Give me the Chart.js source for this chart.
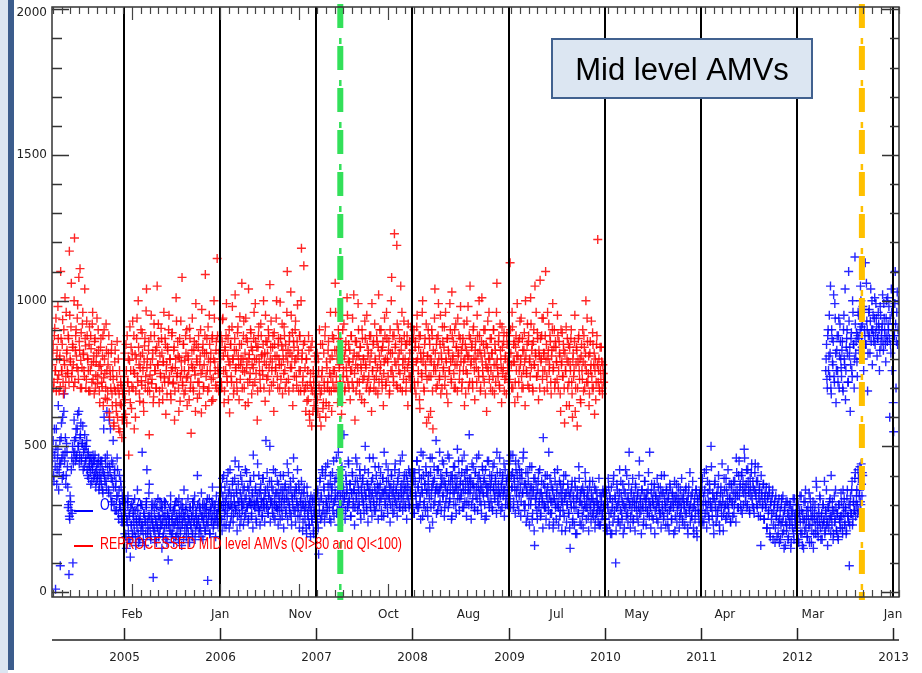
<!DOCTYPE html>
<html>
<head>
<meta charset="utf-8">
<script src="https://cdn.jsdelivr.net/npm/chart.js@4.4.1/dist/chart.umd.min.js"></script>
<style>
  html, body { margin: 0; padding: 0; background: #fff; }
  canvas { display: block; }
</style>
</head>
<body>
<canvas id="amvChart" width="922" height="673"></canvas>
<script>
// counts sampled every 3 days, two passes (a / b) offset by 1.5 days, one array per year
const stepDays = 3;

const red2004 = [
780, 850, 720, 905, 760, 690, 830, 980, 745, 800, 705, 870, 760, 935, 680, 795, 1010, 740, 820, 760,
880, 720, 950, 790, 1060, 760, 840, 705, 1215, 830, 900, 770, 985, 730, 860, 1110, 795, 700, 920, 815,
760, 1040, 845, 730, 880, 800, 690, 910, 760, 835, 720, 960, 790, 680, 870, 745, 820, 715, 900, 775,
650, 840, 760, 705, 880, 735, 800, 665, 920, 760, 690, 820, 615, 760, 700, 850, 640, 730, 580, 790,
690, 620, 860, 700, 560, 760, 645, 710, 530, 680, 600
];
const red2004b = [
820, 700, 880, 760, 940, 800, 730, 870, 690, 810, 1100, 760, 850, 720, 900, 780, 700, 960, 830, 750,
870, 1170, 800, 910, 740, 850, 780, 1000, 720, 880, 810, 940, 760, 1080, 830, 700, 890, 770, 960, 820,
740, 870, 700, 930, 800, 760, 850, 690, 880, 780, 920, 730, 810, 860, 700, 790, 940, 740, 830, 690,
780, 870, 720, 810, 640, 900, 750, 700, 830, 660, 780, 880, 600, 740, 820, 680, 760, 570, 700, 830,
650, 740, 600, 800, 680, 550, 720, 640, 590, 700
];
const red2005 = [
690, 820, 610, 760, 880, 720, 470, 795, 650, 840, 705, 930, 760, 560, 815, 690, 870, 740, 1000, 780,
655, 810, 725, 890, 760, 620, 845, 700, 965, 770, 690, 830, 540, 745, 880, 715, 800, 650, 920, 760,
830, 700, 1050, 780, 860, 690, 750, 905, 820, 660, 790, 735, 870, 610, 780, 840, 720, 950, 800, 680,
760, 890, 715, 830, 590, 770, 1010, 740, 860, 700, 805, 655, 930, 760, 720, 850, 680, 795, 880, 735,
640, 810, 760, 905, 700, 545, 830, 770, 690, 860, 745, 990, 800, 665, 840, 720, 780, 900, 615, 760,
850, 705, 820, 1090, 740, 870, 690, 800, 950, 760, 820, 655, 880, 735, 1000, 790, 710, 860, 1145, 770,
690, 830
];
const red2005b = [
740, 660, 850, 580, 720, 800, 690, 910, 760, 630, 820, 700, 880, 750, 600, 800, 940, 720, 840, 680,
770, 900, 710, 820, 650, 790, 870, 740, 1040, 800, 720, 860, 690, 780, 950, 730, 820, 670, 880, 760,
700, 840, 780, 920, 650, 810, 740, 870, 700, 790, 960, 720, 850, 760, 680, 830, 900, 740, 800, 660,
880, 770, 720, 840, 690, 800, 930, 750, 810, 620, 870, 740, 790, 1080, 710, 850, 760, 690, 820, 900,
740, 800, 660, 870, 720, 780, 940, 700, 830, 760, 620, 850, 790, 720, 880, 680, 810, 750, 970, 830,
700, 780, 880, 640, 820, 760, 910, 700, 850, 790, 730, 870, 660, 800, 940, 760, 830, 700, 880, 750,
820, 720
];
const red2006 = [
760, 880, 700, 935, 810, 650, 840, 760, 990, 720, 870, 790, 615, 850, 740, 910, 800, 680, 830, 1020,
770, 720, 890, 810, 660, 945, 780, 850, 700, 800, 930, 755, 640, 870, 790, 720, 1040, 815, 750, 890,
680, 830, 770, 960, 720, 860, 800, 590, 840, 910, 760, 700, 880, 815, 745, 1000, 790, 655, 860, 730,
820, 900, 770, 1055, 840, 710, 790, 880, 620, 850, 760, 940, 810, 700, 870, 780, 995, 730, 845, 680,
800, 910, 760, 850, 720, 1100, 830, 690, 880, 770, 950, 810, 640, 860, 740, 900, 800, 710, 985, 830,
760, 880, 690, 1180, 820, 740, 1120, 860, 700, 800, 655, 760, 880, 610, 720, 840, 570, 690, 760, 640,
810, 700
];
const red2006b = [
800, 720, 860, 940, 760, 690, 830, 880, 740, 810, 660, 900, 780, 850, 720, 980, 800, 700, 870, 760,
830, 690, 910, 780, 850, 730, 800, 1060, 760, 880, 700, 820, 940, 770, 860, 650, 800, 730, 900, 840,
780, 710, 870, 800, 990, 750, 840, 690, 880, 790, 730, 920, 810, 760, 850, 700, 820, 950, 780, 860,
740, 880, 690, 800, 930, 760, 840, 720, 890, 810, 770, 1000, 740, 850, 800, 700, 870, 780, 920, 830,
750, 880, 700, 810, 960, 790, 730, 860, 820, 1030, 770, 890, 700, 840, 790, 930, 740, 860, 810, 690,
880, 760, 1000, 800, 720, 850, 690, 770, 620, 800, 710, 660, 830, 590, 750, 700, 860, 620, 720, 680,
790, 740
];
const red2007 = [
700, 820, 620, 760, 900, 680, 570, 740, 850, 650, 720, 880, 600, 790, 700, 830, 640, 750, 960, 690,
810, 720, 870, 760, 1060, 700, 830, 650, 900, 770, 720, 860, 610, 800, 740, 920, 690, 830, 770, 1010,
720, 850, 790, 660, 880, 760, 940, 700, 820, 590, 780, 860, 720, 990, 810, 680, 840, 760, 900, 730,
800, 650, 870, 770, 950, 720, 830, 690, 790, 880, 620, 760, 850, 700, 920, 790, 740, 860, 680, 1020,
810, 760, 900, 730, 840, 640, 790, 880, 710, 960, 800, 740, 860, 690, 820, 1000, 760, 880, 720, 1230,
840, 780, 1190, 700, 900, 820, 750, 1050, 860, 690, 800, 930, 760, 850, 720, 880, 640, 790, 860, 740,
910, 800
];
const red2007b = [
740, 660, 800, 710, 600, 850, 690, 760, 630, 820, 700, 910, 650, 770, 720, 860, 690, 800, 740, 620,
880, 760, 700, 830, 960, 740, 800, 690, 870, 780, 720, 840, 650, 900, 760, 810, 700, 860, 740, 950,
790, 700, 830, 760, 880, 720, 800, 1020, 750, 860, 690, 810, 770, 900, 720, 840, 780, 660, 870, 800,
740, 930, 780, 700, 850, 810, 740, 880, 700, 820, 990, 760, 860, 730, 800, 690, 880, 770, 840, 720,
900, 780, 830, 700, 860, 750, 940, 800, 720, 870, 790, 830, 680, 900, 760, 1080, 820, 740, 880, 790,
850, 710, 920, 800, 760, 870, 700, 830, 960, 780, 730, 880, 800, 690, 850, 770, 920, 740, 820, 700,
860, 780
];
const red2008 = [
830, 760, 900, 700, 860, 790, 950, 720, 840, 660, 880, 800, 740, 1000, 820, 690, 870, 760, 580, 810,
900, 740, 850, 620, 790, 880, 560, 760, 940, 820, 700, 870, 780, 990, 730, 850, 680, 800, 910, 760,
840, 710, 960, 790, 870, 650, 820, 760, 900, 730, 1030, 800, 860, 700, 780, 920, 840, 690, 810, 880,
760, 980, 830, 720, 870, 790, 640, 850, 760, 930, 810, 700, 880, 1050, 780, 840, 720, 900, 800, 660,
860, 770, 950, 820, 740, 880, 690, 810, 1010, 760, 850, 720, 900, 780, 620, 840, 760, 960, 800, 700,
870, 820, 740, 900, 680, 830, 780, 1060, 760, 860, 710, 920, 800, 650, 840, 770, 890, 730, 810, 680,
850, 760
];
const red2008b = [
790, 870, 720, 840, 680, 910, 800, 760, 880, 630, 820, 750, 960, 790, 700, 850, 780, 920, 730, 810,
600, 870, 800, 740, 900, 690, 830, 780, 1040, 760, 850, 710, 880, 800, 740, 950, 820, 700, 860, 770,
910, 740, 800, 680, 870, 830, 760, 990, 790, 720, 880, 810, 750, 900, 700, 840, 780, 940, 820, 730,
870, 790, 700, 850, 760, 920, 800, 680, 830, 750, 980, 810, 720, 870, 790, 850, 700, 910, 760, 830,
800, 720, 880, 760, 1000, 830, 700, 860, 790, 740, 900, 820, 680, 850, 770, 930, 800, 730, 870, 760,
820, 690, 900, 780, 850, 720, 960, 800, 740, 880, 700, 830, 770, 910, 750, 860, 690, 800, 740, 880,
790, 720
];
const red2009 = [
760, 880, 1130, 820, 700, 910, 790, 860, 650, 840, 760, 990, 810, 720, 870, 780, 940, 700, 830, 760,
890, 640, 810, 750, 920, 860, 700, 800, 1010, 770, 850, 690, 900, 780, 820, 960, 740, 870, 660, 810,
1070, 790, 880, 730, 940, 820, 760, 1100, 850, 700, 800, 920, 780, 860, 680, 830, 990, 770, 900, 720,
840, 790, 950, 700, 860, 810, 620, 780, 890, 740, 830, 580, 760, 910, 800, 700, 850, 640, 780, 870,
720, 600, 820, 760, 950, 700, 840, 570, 790, 880, 730, 660, 810, 760, 900, 690, 840, 780, 1000, 720,
860, 750, 640, 820, 760, 930, 700, 850, 780, 610, 800, 720, 880, 1210, 760, 700, 840, 730, 790, 680,
750
];
const red2009b = [
820, 730, 900, 780, 960, 700, 850, 790, 720, 880, 810, 670, 860, 760, 930, 800, 740, 870, 700, 830,
790, 1000, 760, 850, 710, 880, 790, 740, 920, 830, 700, 860, 780, 1050, 810, 740, 890, 760, 830, 700,
870, 800, 940, 760, 820, 690, 880, 800, 740, 960, 830, 760, 880, 720, 810, 900, 760, 840, 700, 860,
790, 730, 880, 760, 820, 680, 900, 790, 740, 850, 700, 820, 760, 640, 870, 790, 720, 840, 760, 900,
680, 800, 740, 860, 620, 780, 830, 700, 870, 760, 800, 650, 850, 730, 790, 880, 700, 820, 760, 940,
720, 810, 680, 860, 780, 740, 890, 700, 820, 760, 660, 850, 780, 720, 800, 690, 760, 840, 700, 780,
720
];

const blue2004 = [
450, 520, 380, 470, 10, 560, 420, 490, 350, 440, 90, 530, 460, 600, 400, 680, 480, 370, 510, 430,
290, 60, 250, 310, 420, 270, 100, 480, 520, 450, 560, 470, 610, 500, 440, 530, 580, 460, 510, 420,
490, 540, 450, 500, 420, 470, 390, 440, 410, 460, 380, 430, 450, 400, 470, 360, 420, 390, 440, 350,
400, 450, 370, 420, 340, 560, 400, 460, 380, 620, 430, 350, 590, 410, 330, 450, 380, 520, 300, 420,
360, 280, 460, 330, 250, 400, 290, 360, 240, 310, 260
];
const blue2004b = [
480, 400, 560, 430, 500, 370, 460, 640, 410, 520, 440, 580, 390, 470, 620, 450, 530, 400, 480, 360,
300, 260, 330, 280, 460, 500, 440, 590, 480, 530, 460, 560, 500, 620, 470, 540, 450, 510, 570, 480,
430, 500, 460, 520, 400, 480, 430, 460, 370, 440, 420, 470, 390, 450, 410, 380, 440, 400, 460, 370,
430, 390, 450, 350, 410, 600, 380, 440, 360, 470, 400, 340, 430, 560, 390, 310, 440, 360, 400, 280,
380, 330, 420, 270, 350, 300, 380, 260, 330, 240
];
const blue2005 = [
260, 200, 310, 150, 240, 330, 180, 270, 120, 230, 300, 190, 260, 210, 280, 160, 240, 350, 200, 250,
180, 300, 230, 480, 210, 270, 160, 240, 290, 420, 200, 260, 370, 220, 180, 280, 240, 50, 300, 210,
250, 170, 230, 320, 190, 260, 220, 290, 150, 240, 200, 310, 260, 180, 230, 270, 110, 250, 210, 330,
190, 260, 230, 170, 280, 240, 310, 200, 250, 180, 270, 220, 300, 160, 240, 260, 350, 210, 280, 190,
230, 320, 250, 170, 290, 220, 260, 200, 310, 240, 180, 270, 230, 400, 250, 200, 290, 220, 340, 260,
180, 240, 300, 210, 270, 230, 40, 260, 320, 200, 280, 240, 360, 220, 300, 250, 190, 330, 270, 230,
310, 260
];
const blue2005b = [
230, 280, 190, 250, 310, 210, 260, 170, 290, 230, 200, 270, 240, 320, 190, 250, 220, 280, 170, 240,
260, 210, 300, 230, 180, 270, 250, 200, 310, 240, 220, 340, 260, 190, 250, 300, 230, 210, 270, 180,
240, 290, 220, 260, 200, 310, 250, 230, 280, 190, 260, 220, 300, 240, 170, 270, 230, 250, 290, 210,
250, 200, 280, 230, 300, 190, 260, 240, 220, 320, 250, 200, 270, 230, 290, 180, 260, 240, 300, 220,
270, 200, 250, 290, 230, 260, 190, 280, 240, 330, 210, 260, 230, 300, 250, 220, 280, 190, 260, 300,
240, 270, 210, 290, 250, 320, 230, 270, 200, 290, 250, 310, 260, 230, 280, 300, 250, 270, 240, 290,
280, 300
];
const blue2006 = [
280, 340, 250, 390, 300, 230, 360, 280, 320, 260, 410, 300, 350, 240, 330, 290, 380, 270, 310, 450,
290, 340, 260, 370, 310, 230, 400, 320, 280, 350, 300, 260, 420, 330, 290, 360, 250, 310, 380, 300,
270, 340, 470, 310, 290, 360, 240, 330, 300, 400, 280, 350, 320, 260, 390, 310, 290, 340, 520, 300,
360, 270, 330, 500, 310, 380, 290, 350, 260, 320, 410, 300, 340, 280, 370, 310, 250, 350, 290, 330,
400, 300, 360, 270, 320, 440, 310, 350, 290, 380, 260, 330, 300, 460, 340, 280, 360, 310, 420, 290,
350, 260, 320, 380, 300, 240, 340, 280, 310, 220, 360, 270, 300, 230, 290, 330, 250, 310, 210, 280,
320, 260
];
const blue2006b = [
250, 360, 210, 330, 400, 270, 310, 230, 380, 290, 340, 220, 420, 300, 260, 370, 240, 330, 390, 280,
350, 210, 310, 430, 270, 340, 250, 380, 300, 230, 360, 320, 270, 410, 290, 240, 350, 310, 380, 260,
330, 220, 400, 300, 350, 250, 310, 440, 280, 340, 230, 370, 300, 260, 390, 320, 240, 350, 290, 410,
270, 330, 380, 240, 310, 360, 270, 420, 300, 250, 340, 290, 380, 230, 330, 280, 400, 310, 260, 350,
220, 320, 370, 280, 340, 250, 410, 300, 270, 360, 230, 320, 390, 280, 330, 240, 350, 300, 260, 370,
220, 310, 280, 340, 210, 300, 360, 250, 290, 200, 330, 260, 230, 310, 190, 280, 250, 320, 200, 270,
300, 240
];
const blue2007 = [
300, 240, 350, 130, 280, 390, 320, 260, 410, 300, 350, 270, 430, 310, 290, 370, 330, 250, 400, 320,
360, 280, 450, 310, 340, 390, 270, 330, 480, 300, 360, 420, 290, 340, 310, 540, 330, 280, 380, 350,
300, 440, 320, 370, 260, 340, 400, 310, 350, 290, 460, 330, 380, 300, 340, 420, 270, 360, 320, 390,
300, 350, 500, 330, 280, 370, 410, 320, 350, 290, 380, 340, 460, 310, 360, 280, 400, 330, 350, 430,
300, 370, 320, 260, 390, 340, 480, 310, 350, 380, 290, 420, 330, 360, 300, 400, 340, 270, 370, 320,
440, 350, 300, 380, 330, 410, 290, 360, 340, 470, 310, 380, 350, 290, 400, 330, 360, 420, 300, 350,
390, 330
];
const blue2007b = [
260, 340, 220, 310, 380, 250, 330, 420, 280, 360, 240, 400, 310, 270, 440, 330, 290, 370, 240, 350,
410, 300, 260, 380, 320, 460, 280, 350, 230, 390, 330, 300, 430, 270, 360, 320, 250, 400, 340, 290,
450, 310, 370, 260, 340, 410, 290, 350, 230, 380, 320, 440, 280, 360, 300, 400, 250, 340, 380, 310,
270, 420, 330, 290, 370, 240, 350, 460, 300, 330, 260, 390, 310, 280, 430, 340, 300, 370, 250, 360,
320, 410, 280, 340, 390, 260, 350, 300, 440, 330, 270, 380, 320, 240, 360, 400, 300, 340, 280, 420,
310, 350, 260, 390, 330, 290, 450, 320, 370, 280, 340, 400, 300, 360, 250, 380, 320, 290, 410, 340,
300, 370
];
const blue2008 = [
320, 380, 270, 410, 340, 300, 450, 360, 290, 390, 330, 480, 350, 260, 400, 310, 370, 430, 340, 290,
380, 350, 220, 410, 330, 460, 370, 300, 390, 340, 520, 360, 280, 420, 350, 310, 400, 370, 450, 330,
380, 290, 360, 410, 340, 470, 380, 310, 350, 400, 260, 370, 430, 340, 390, 300, 360, 490, 350, 410,
320, 380, 340, 450, 370, 290, 400, 350, 420, 310, 380, 360, 540, 340, 390, 300, 370, 430, 350, 280,
410, 360, 320, 390, 470, 340, 380, 300, 360, 420, 330, 390, 250, 370, 340, 450, 360, 310, 400, 350,
380, 290, 430, 360, 330, 390, 350, 480, 310, 370, 340, 410, 280, 360, 390, 330, 440, 350, 300, 380,
340, 400
];
const blue2008b = [
300, 410, 270, 380, 330, 450, 290, 360, 420, 310, 250, 390, 340, 470, 300, 370, 280, 410, 350, 260,
400, 320, 460, 290, 360, 240, 380, 430, 310, 350, 270, 420, 340, 300, 480, 360, 280, 390, 330, 440,
260, 370, 310, 410, 350, 290, 460, 320, 380, 250, 400, 340, 300, 430, 360, 270, 390, 320, 450, 280,
370, 330, 410, 290, 350, 470, 310, 380, 260, 420, 340, 300, 390, 360, 250, 440, 320, 370, 290, 410,
330, 460, 280, 360, 400, 310, 350, 270, 430, 340, 380, 300, 420, 260, 360, 330, 450, 290, 370, 310,
400, 280, 350, 440, 320, 380, 270, 410, 340, 300, 460, 330, 370, 290, 400, 350, 260, 420, 320, 380,
300, 360
];
const blue2009 = [
380, 440, 320, 470, 360, 410, 290, 390, 350, 450, 330, 400, 370, 280, 420, 360, 310, 390, 340, 480,
370, 300, 410, 350, 260, 380, 330, 430, 300, 360, 250, 340, 390, 160, 320, 370, 280, 350, 410, 310,
340, 270, 380, 320, 530, 300, 360, 290, 340, 400, 310, 480, 330, 270, 370, 310, 350, 240, 320, 380,
300, 340, 420, 290, 330, 260, 370, 310, 350, 280, 400, 320, 210, 340, 300, 370, 270, 330, 150, 310,
360, 240, 330, 290, 380, 200, 320, 350, 270, 430, 310, 340, 230, 300, 360, 280, 330, 410, 290, 320,
350, 260, 310, 380, 300, 340, 270, 320, 290, 360, 250, 310, 340, 280, 300, 230, 330, 290, 310, 270,
340, 300
];
const blue2009b = [
330, 450, 290, 400, 360, 470, 310, 380, 270, 420, 350, 300, 440, 330, 390, 260, 410, 340, 460, 300,
280, 370, 240, 340, 410, 300, 230, 360, 320, 430, 270, 350, 210, 390, 300, 330, 250, 380, 290, 420,
260, 340, 310, 220, 370, 290, 400, 250, 330, 360, 280, 230, 390, 310, 270, 350, 220, 320, 410, 290,
250, 360, 300, 230, 380, 280, 340, 210, 310, 370, 260, 330, 400, 240, 300, 350, 270, 220, 340, 290,
380, 250, 310, 230, 360, 290, 200, 330, 270, 390, 240, 310, 350, 260, 220, 340, 300, 380, 250, 290,
330, 210, 360, 280, 240, 320, 380, 260, 300, 220, 350, 270, 310, 240, 390, 280, 230, 330, 260, 350,
290, 250
];
const blue2010 = [
300, 250, 340, 210, 290, 360, 230, 320, 270, 200, 310, 380, 260, 330, 100, 290, 350, 240, 310, 420,
280, 330, 250, 370, 300, 220, 340, 290, 400, 270, 320, 480, 300, 260, 350, 310, 240, 330, 290, 370,
310, 260, 340, 290, 450, 320, 280, 350, 300, 230, 330, 380, 290, 320, 270, 350, 310, 480, 290, 340,
260, 320, 300, 370, 280, 330, 250, 310, 360, 290, 330, 270, 400, 300, 340, 260, 320, 290, 350, 310,
230, 330, 280, 360, 300, 250, 340, 290, 320, 210, 310, 370, 280, 330, 300, 260, 350, 290, 320, 240,
340, 300, 270, 360, 310, 220, 330, 290, 410, 300, 260, 340, 290, 200, 320, 280, 350, 190, 310, 270,
330, 300
];
const blue2010b = [
250, 350, 220, 310, 390, 270, 330, 200, 360, 290, 240, 400, 280, 320, 210, 370, 300, 250, 340, 230,
380, 270, 310, 200, 350, 290, 420, 260, 320, 240, 370, 300, 220, 340, 280, 390, 250, 310, 210, 360,
290, 330, 240, 400, 270, 310, 200, 350, 290, 250, 380, 320, 230, 340, 280, 410, 260, 300, 220, 370,
310, 250, 350, 200, 330, 290, 390, 240, 310, 270, 360, 220, 340, 280, 250, 400, 300, 230, 350, 270,
320, 210, 370, 290, 250, 340, 310, 200, 380, 260, 330, 240, 300, 360, 220, 310, 270, 390, 250, 320,
290, 230, 350, 270, 310, 200, 360, 280, 240, 330, 260, 380, 220, 300, 250, 350, 210, 320, 280, 240,
340, 260
];
const blue2011 = [
330, 270, 390, 300, 240, 350, 310, 420, 280, 340, 260, 370, 310, 500, 290, 340, 230, 320, 380, 280,
330, 260, 360, 300, 210, 340, 290, 440, 310, 270, 350, 300, 390, 260, 330, 290, 370, 320, 240, 360,
300, 340, 270, 380, 320, 460, 350, 290, 400, 330, 370, 280, 410, 350, 300, 490, 360, 330, 420, 300,
380, 340, 270, 360, 410, 320, 380, 290, 350, 440, 330, 300, 380, 260, 350, 310, 160, 340, 290, 370,
250, 320, 300, 360, 220, 330, 280, 340, 190, 310, 270, 350, 230, 300, 170, 330, 260, 290, 200, 320,
250, 180, 300, 240, 330, 210, 280, 160, 310, 230, 270, 190, 300, 250, 150, 280, 220, 320, 180, 260,
240, 300
];
const blue2011b = [
280, 360, 240, 330, 410, 270, 300, 220, 380, 310, 250, 350, 290, 430, 260, 320, 200, 370, 300, 240,
340, 280, 400, 230, 310, 360, 260, 330, 210, 390, 290, 250, 350, 300, 420, 270, 320, 240, 370, 310,
260, 380, 300, 340, 240, 410, 330, 290, 450, 360, 300, 400, 270, 380, 340, 460, 310, 370, 290, 420,
350, 280, 390, 330, 440, 300, 360, 270, 410, 340, 380, 290, 430, 320, 360, 260, 400, 330, 300, 370,
250, 340, 290, 220, 320, 270, 360, 200, 300, 250, 330, 180, 280, 310, 220, 260, 190, 300, 240, 170,
280, 230, 320, 200, 260, 150, 290, 240, 210, 310, 180, 260, 230, 300, 170, 250, 280, 200, 320, 230,
270, 210
];
const blue2012 = [
260, 210, 300, 170, 280, 240, 330, 200, 270, 150, 250, 310, 220, 280, 190, 260, 340, 230, 290, 170,
250, 310, 200, 270, 230, 380, 260, 210, 290, 240, 320, 180, 270, 230, 300, 250, 200, 280, 350, 240,
290, 220, 310, 260, 400, 230, 280, 200, 330, 250, 290, 210, 270, 180, 300, 240, 260, 310, 220, 350,
270, 230, 290, 200, 320, 260, 240, 90, 300, 270, 350, 230, 310, 280, 390, 260, 330, 300, 420, 280,
350, 310, 440, 330, 400
];
const blue2012b = [
220, 300, 180, 260, 330, 200, 280, 160, 240, 310, 210, 350, 250, 190, 290, 230, 170, 320, 260, 210,
280, 150, 250, 300, 200, 360, 240, 190, 270, 330, 220, 260, 180, 300, 240, 380, 210, 270, 230, 160,
290, 250, 320, 200, 260, 310, 180, 280, 240, 350, 210, 270, 190, 300, 250, 220, 340, 260, 200, 290,
320, 240, 280, 210, 350, 260, 300, 230, 330, 270, 380, 250, 310, 280, 410, 300, 350, 270, 390, 330,
430, 300, 370, 410
];
// second operational stream from mid 2012
const blueHigh = [
760, 850, 700, 900, 810, 740, 1050, 680, 870, 780, 1020, 720, 940, 650, 830, 760, 880, 700, 920, 800,
740, 860, 690, 950, 780, 660, 840, 900, 720, 1100, 810, 620, 870, 760, 1000, 850, 700, 1150, 820, 890,
740, 960, 870, 800, 1050, 910, 840, 980, 760, 900, 1130, 850, 930, 690, 880, 970, 820, 1040, 900, 780,
950, 860, 1010, 890, 940, 810, 870, 920, 760, 980, 850, 900, 1020, 830, 940, 880, 790, 1000, 860, 920,
980, 600, 850, 1040, 760, 920, 550, 880, 1100, 700, 960, 850, 1000
];
const blueHighb = [
800, 730, 880, 760, 950, 820, 700, 900, 790, 860, 740, 990, 820, 760, 880, 720, 940, 810, 860, 770,
830, 700, 900, 800, 1040, 760, 870, 820, 720, 930, 840, 780, 890, 740, 960, 850, 800, 920, 860, 790,
880, 950, 830, 900, 1000, 860, 920, 800, 970, 880, 850, 1060, 900, 820, 960, 880, 930, 860, 1000, 900,
880, 940, 850, 990, 910, 870, 960, 900, 830, 950, 880, 920, 860, 990, 900, 850, 940, 880, 1010, 900,
870, 940, 820, 960, 900, 650, 880, 990, 920, 860, 1030, 900
];

const yearTicks = [2005, 2006, 2007, 2008, 2009, 2010, 2011, 2012, 2013];
const monthTicks = [2005 + 1/12, 2006, 2006 + 10/12, 2007 + 9/12, 2008 + 7/12, 2009 + 6/12, 2010 + 4/12, 2011 + 3/12, 2012 + 2/12, 2013];
const monthLabels = ['Feb', 'Jan', 'Nov', 'Oct', 'Aug', 'Jul', 'May', 'Apr', 'Mar', 'Jan'];
const yTicks = [0, 500, 1000, 1500, 2000];
const eventLines = [2007.25, 2012.676];
const eventColors = ['#33e05a', '#ffc000'];

const half = 1.5 / 365.25;
function pts(start, values) {
    return values.map((v, i) => ({ x: start + i * stepDays / 365.25, y: v }));
}

const redPoints = [].concat(
    pts(2004.255, red2004), pts(2004.255 + half, red2004b),
    pts(2005, red2005), pts(2005 + half, red2005b),
    pts(2006, red2006), pts(2006 + half, red2006b),
    pts(2007, red2007), pts(2007 + half, red2007b),
    pts(2008, red2008), pts(2008 + half, red2008b),
    pts(2009, red2009), pts(2009 + half, red2009b)
);
const bluePoints = [].concat(
    pts(2004.255, blue2004), pts(2004.255 + half, blue2004b),
    pts(2005, blue2005), pts(2005 + half, blue2005b),
    pts(2006, blue2006), pts(2006 + half, blue2006b),
    pts(2007, blue2007), pts(2007 + half, blue2007b),
    pts(2008, blue2008), pts(2008 + half, blue2008b),
    pts(2009, blue2009), pts(2009 + half, blue2009b),
    pts(2010, blue2010), pts(2010 + half, blue2010b),
    pts(2011, blue2011), pts(2011 + half, blue2011b),
    pts(2011.995, blue2012), pts(2011.995 + half, blue2012b),
    pts(2012.30, blueHigh), pts(2012.30 + half, blueHighb)
);

const REDTXT = 'REPROCESSED MID level AMVs (QI>80 and QI<100)';
const BLUETXT = 'OPERATIONAL MID level AMVs';
let squeeze = 1;

function legendLine(c, y, color) {
    c.strokeStyle = color;
    c.lineWidth = 2;
    c.beginPath(); c.moveTo(74, y); c.lineTo(93, y); c.stroke();
}

function narrowText(c, text, x, y, color) {
    c.save();
    c.font = '16px "Liberation Sans"';
    c.translate(x, y);
    c.scale(squeeze, 1);
    c.fillStyle = color;
    c.textAlign = 'left';
    c.textBaseline = 'alphabetic';
    c.fillText(text, 0, 0);
    c.restore();
}

const decor = {
    id: 'decor',
    beforeDraw(chart) {
        const c = chart.ctx;
        c.save();
        c.fillStyle = '#fff';
        c.fillRect(0, 0, chart.width, chart.height);
        c.fillStyle = '#dbe5f1';
        c.fillRect(0, 0, 8, chart.height);
        c.fillStyle = '#3b5c8c';
        c.fillRect(8, 0, 6, 670);
        c.restore();
    },
    beforeDatasetsDraw(chart) {
        const c = chart.ctx;
        c.save();
        c.font = '16px "Liberation Sans"';
        squeeze = 302 / c.measureText(REDTXT).width;
        legendLine(c, 511, '#0000ff');
        narrowText(c, BLUETXT, 100, 510, '#0000ff');
        c.restore();
    },
    afterDatasetsDraw(chart) {
        const c = chart.ctx;
        const xs = chart.scales.x, ys = chart.scales.y;
        const a = chart.chartArea;
        c.save();

        // year separators
        c.strokeStyle = '#000';
        c.lineWidth = 2;
        yearTicks.forEach(yr => {
            const px = Math.round(xs.getPixelForValue(yr));
            c.beginPath(); c.moveTo(px, a.top); c.lineTo(px, a.bottom); c.stroke();
        });

        // event markers, long dash + short thin dash
        eventLines.forEach((yr, i) => {
            const px = xs.getPixelForValue(yr);
            c.strokeStyle = eventColors[i];
            c.lineWidth = 6;
            c.setLineDash([24, 18]);
            c.lineDashOffset = 0;
            c.beginPath(); c.moveTo(px, a.top - 3); c.lineTo(px, a.bottom + 3); c.stroke();
            c.lineWidth = 2.5;
            c.setLineDash([6, 36]);
            c.lineDashOffset = 8;
            c.beginPath(); c.moveTo(px, a.top - 3); c.lineTo(px, a.bottom + 3); c.stroke();
        });
        c.setLineDash([]);

        // frame
        c.strokeStyle = '#333';
        c.lineWidth = 1.5;
        c.strokeRect(a.left, a.top, a.right - a.left, a.bottom - a.top);

        // y ticks
        for (let v = 0; v <= 2000; v += 100) {
            const py = Math.round(ys.getPixelForValue(v)) + 0.5;
            const major = v % 500 === 0;
            c.beginPath();
            c.moveTo(a.left, py); c.lineTo(a.left + (major ? 17 : 10), py);
            c.moveTo(a.right, py); c.lineTo(a.right - (major ? 17 : 9), py);
            c.stroke();
        }
        c.fillStyle = '#222';
        c.font = '12px "DejaVu Sans"';
        c.textAlign = 'right';
        c.textBaseline = 'middle';
        yTicks.forEach(v => {
            const py = Math.max(ys.getPixelForValue(v), 13);
            c.fillText(String(v), 47, py);
        });

        // x ticks (month axis) on top and bottom
        const minorStep = 11 / 120;
        c.lineWidth = 1.2;
        c.strokeStyle = '#444';
        let t0 = monthTicks[0];
        while (t0 - minorStep > xs.min) t0 -= minorStep;
        for (let t = t0; t <= xs.max; t += minorStep) {
            const px = Math.round(xs.getPixelForValue(t)) + 0.5;
            const major = monthTicks.some(m => Math.abs(m - t) < 0.01);
            const len = major ? 13 : 7;
            c.beginPath();
            c.moveTo(px, a.top); c.lineTo(px, a.top + len);
            c.moveTo(px, a.bottom); c.lineTo(px, a.bottom - len);
            c.stroke();
        }
        c.textAlign = 'center';
        c.fillStyle = '#222';
        monthTicks.forEach((t, i) => {
            c.fillText(monthLabels[i], xs.getPixelForValue(t), 615);
        });

        // year axis
        c.strokeStyle = '#222';
        c.lineWidth = 1.5;
        c.beginPath(); c.moveTo(a.left, 640); c.lineTo(a.right, 640); c.stroke();
        yearTicks.forEach(yr => {
            const px = Math.round(xs.getPixelForValue(yr)) + 0.5;
            c.beginPath(); c.moveTo(px, 640); c.lineTo(px, 628); c.stroke();
            c.fillText(String(yr), px, 658);
        });

        // reprocessed legend entry
        legendLine(c, 546, '#ff0000');
        narrowText(c, REDTXT, 100, 549, '#ff0000');

        // title box
        c.fillStyle = '#dce6f2';
        c.fillRect(552, 39, 260, 59);
        c.strokeStyle = '#41618f';
        c.lineWidth = 2;
        c.strokeRect(552, 39, 260, 59);
        c.fillStyle = '#000';
        c.font = '31px "Liberation Sans"';
        c.textAlign = 'center';
        c.textBaseline = 'alphabetic';
        c.fillText('Mid level AMVs', 682, 80);

        c.restore();
    }
};

const ctx = document.getElementById('amvChart').getContext('2d');
const amvChart = new Chart(ctx, {
    type: 'scatter',
    data: {
        datasets: [{
            label: 'REPROCESSED MID level AMVs',
            data: redPoints,
            pointStyle: 'cross',
            pointRadius: 4.5,
            pointBorderWidth: 1.4,
            pointBorderColor: 'rgba(255, 0, 0, 0.85)',
            pointBackgroundColor: 'rgba(255, 0, 0, 0.85)'
        }, {
            label: 'OPERATIONAL MID level AMVs',
            data: bluePoints,
            pointStyle: 'cross',
            pointRadius: 4.5,
            pointBorderWidth: 1.4,
            pointBorderColor: 'rgba(0, 0, 255, 0.85)',
            pointBackgroundColor: 'rgba(0, 0, 255, 0.85)'
        }]
    },
    options: {
        responsive: false,
        animation: false,
        events: [],
        layout: { padding: { left: 52, right: 23, top: 7, bottom: 76 } },
        scales: {
            x: { type: 'linear', min: 2004.251, max: 2013.062, display: false },
            y: { type: 'linear', min: -17, max: 2008, display: false }
        },
        plugins: {
            legend: { display: false },
            tooltip: { enabled: false }
        }
    },
    plugins: [decor]
});
</script>
</body>
</html>
